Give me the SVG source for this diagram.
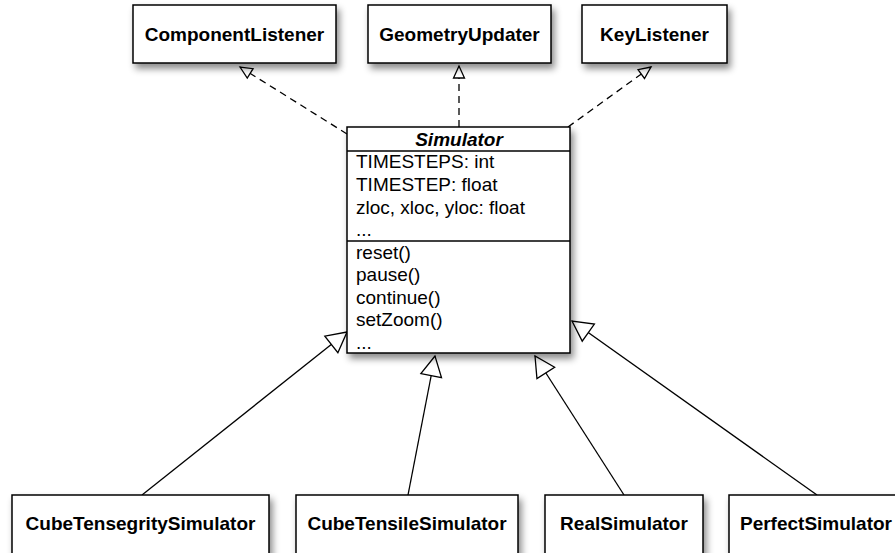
<svg xmlns="http://www.w3.org/2000/svg" width="895" height="553" viewBox="0 0 895 553">
<style>
.box{fill:#fff;stroke:#000;stroke-width:1.5;filter:url(#sh)}
.lbl{font-family:"Liberation Sans",Arial,sans-serif;font-weight:bold;font-size:19px;text-anchor:middle;fill:#000}
.ttl{font-family:"Liberation Sans",Arial,sans-serif;font-weight:bold;font-style:italic;font-size:19px;text-anchor:middle;fill:#000}
.mem{font-family:"Liberation Sans",Arial,sans-serif;font-size:19px;fill:#000}
.sep{stroke:#000;stroke-width:1.3}
.dash{fill:none;stroke:#000;stroke-width:1.3;stroke-dasharray:7,5;marker-end:url(#open)}
.gen{fill:none;stroke:#000;stroke-width:1.3;marker-end:url(#tri)}
</style>
<defs>
<filter id="sh" x="-20%" y="-20%" width="150%" height="160%">
<feDropShadow dx="3" dy="5" stdDeviation="3.5" flood-color="#000" flood-opacity="0.45"/>
</filter>
<marker id="tri" markerUnits="userSpaceOnUse" markerWidth="26" markerHeight="26" viewBox="-2 -13 26 26" refX="20" refY="0" orient="auto">
<path d="M20,0 L0,-10.5 L0,10.5 Z" fill="#fff" stroke="#000" stroke-width="1.3"/>
</marker>
<marker id="open" markerUnits="userSpaceOnUse" markerWidth="16" markerHeight="16" viewBox="-2 -8 16 16" refX="12" refY="0" orient="auto">
<path d="M12,0 L0,-5.5 L0,5.5 Z" fill="#fff" stroke="#000" stroke-width="1.3"/>
</marker>
</defs>

<g id="connectors">
<path class="dash" d="M347,134 L240,67"/>
<path class="dash" d="M459,127 L459,66"/>
<path class="dash" d="M568,127 L651,67"/>
<path class="gen" d="M142,495 L347,332"/>
<path class="gen" d="M408,495 L435,356"/>
<path class="gen" d="M624,495 L535,356"/>
<path class="gen" d="M817,495 L572,321"/>
</g>

<g id="ComponentListener">
<rect class="box" x="133" y="5" width="203" height="58"/>
<text class="lbl" x="234.5" y="41">ComponentListener</text>
</g>
<g id="GeometryUpdater">
<rect class="box" x="368" y="5" width="183" height="58"/>
<text class="lbl" x="459.5" y="41">GeometryUpdater</text>
</g>
<g id="KeyListener">
<rect class="box" x="582" y="5" width="145" height="58"/>
<text class="lbl" x="654.5" y="41">KeyListener</text>
</g>

<g id="Simulator">
<rect class="box" x="347" y="127" width="223" height="226"/>
<line class="sep" x1="347" y1="151" x2="570" y2="151"/>
<line class="sep" x1="347" y1="241" x2="570" y2="241"/>
<text class="ttl" x="459" y="146">Simulator</text>
<text class="mem" x="356" y="168">TIMESTEPS: int</text>
<text class="mem" x="356" y="191">TIMESTEP: float</text>
<text class="mem" x="356" y="213.5">zloc, xloc, yloc: float</text>
<text class="mem" x="356" y="236">...</text>
<text class="mem" x="356" y="258.5">reset()</text>
<text class="mem" x="356" y="281">pause()</text>
<text class="mem" x="356" y="303.5">continue()</text>
<text class="mem" x="356" y="326">setZoom()</text>
<text class="mem" x="356" y="348.5">...</text>
</g>

<g id="CubeTensegritySimulator">
<rect class="box" x="12" y="495" width="257" height="70"/>
<text class="lbl" x="140.5" y="530">CubeTensegritySimulator</text>
</g>
<g id="CubeTensileSimulator">
<rect class="box" x="296" y="495" width="222" height="70"/>
<text class="lbl" x="407" y="530">CubeTensileSimulator</text>
</g>
<g id="RealSimulator">
<rect class="box" x="545" y="495" width="158" height="70"/>
<text class="lbl" x="624" y="530">RealSimulator</text>
</g>
<g id="PerfectSimulator">
<rect class="box" x="729" y="495" width="174" height="70"/>
<text class="lbl" x="816" y="530">PerfectSimulator</text>
</g>
</svg>
